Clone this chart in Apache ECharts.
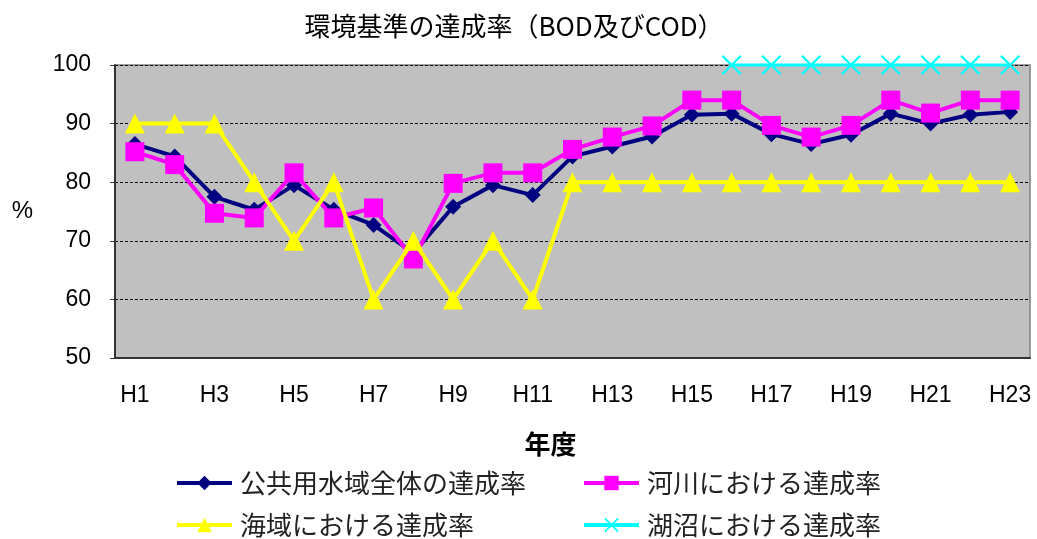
<!DOCTYPE html>
<html><head><meta charset="utf-8">
<script src="https://cdn.jsdelivr.net/npm/echarts@6/dist/echarts.min.js"></script>
<style>html,body{margin:0;padding:0;background:#fff}#c{width:1037px;height:539px}</style>
</head><body><div id="c"></div>
<script>
const categories = ['H1','H2','H3','H4','H5','H6','H7','H8','H9','H10','H11','H12','H13','H14','H15','H16','H17','H18','H19','H20','H21','H22','H23'];
const overall = [86.5,84.4,77.5,75.3,79.5,75.3,72.7,67.9,75.8,79.5,77.8,84.4,86.1,87.8,91.5,91.7,88.2,86.5,88.1,91.7,90.0,91.5,92.0];
const rivers  = [85.2,83.0,74.7,73.9,81.6,73.9,75.6,66.9,79.8,81.6,81.6,85.6,87.7,89.6,94.0,94.0,89.7,87.7,89.7,94.0,91.8,94.0,94.0];
const seas    = [90,90,90,80,70,80,60,70,60,70,60,80,80,80,80,80,80,80,80,80,80,80,80];
const lakes   = [null,null,null,null,null,null,null,null,null,null,null,null,null,null,null,100,100,100,100,100,100,100,100];
const names = ['公共用水域全体の達成率','河川における達成率','海域における達成率','湖沼における達成率'];
const yTicks = {min:50,max:100,interval:10};

const FONT = '"Liberation Sans","Noto Sans CJK JP",sans-serif';
const JFONT = '"Noto Sans CJK JP",sans-serif';
const xPath = 'path://M0,1.6 L1.6,0 L10,8.4 L18.4,0 L20,1.6 L11.6,10 L20,18.4 L18.4,20 L10,11.6 L1.6,20 L0,18.4 L8.4,10 Z';

const chart = echarts.init(document.getElementById('c'));
function legend(name, left, top){
  return {data:[name], left:left, top:top, itemWidth:55, itemHeight:18, itemGap:0,
    lineStyle:{width:4},
    textStyle:{fontFamily:JFONT,fontSize:26,color:'#222',padding:[0,0,0,3]}, padding:0};
}
chart.setOption({
  animation:false,
  title:{text:'環境基準の達成率（BOD及びCOD）', left:509, top:8, textAlign:'center',
    textStyle:{fontFamily:JFONT,fontSize:26,fontWeight:'normal',color:'#000'}},
  grid:{left:115,right:7,top:65,bottom:181,show:true,backgroundColor:'#c0c0c0',borderColor:'#808080',borderWidth:1.5},
  legend:[legend(names[0],175,470),legend(names[1],582,470),legend(names[2],175,512),legend(names[3],582,512)],
  xAxis:{type:'category',data:categories,boundaryGap:true,
    name:'年度',nameLocation:'middle',nameGap:73,
    nameTextStyle:{fontFamily:JFONT,fontSize:26,fontWeight:'bold',color:'#000',padding:[0,44,0,0]},
    axisLine:{lineStyle:{color:'#333',width:2}},
    axisTick:{inside:true,length:7,interval:0,lineStyle:{color:'#333',width:1}},
    axisLabel:{interval:1,fontFamily:FONT,fontSize:23,color:'#000',margin:26}},
  yAxis:{type:'value',min:yTicks.min,max:yTicks.max,interval:yTicks.interval,
    name:'%',nameLocation:'middle',nameGap:82,nameRotate:0,
    nameTextStyle:{fontFamily:FONT,fontSize:24,color:'#000'},
    axisLine:{show:true,lineStyle:{color:'#333',width:2}},
    axisTick:{show:true,length:5,lineStyle:{color:'#333'}},
    axisLabel:{fontFamily:FONT,fontSize:23,color:'#000',margin:24},
    splitLine:{lineStyle:{color:'#000',type:[3,2],width:1}}},
  series:[
    {name:names[0],type:'line',data:overall,symbol:'diamond',symbolSize:16,
      lineStyle:{color:'#000080',width:4},itemStyle:{color:'#000080'},z:2},
    {name:names[1],type:'line',data:rivers,symbol:'rect',symbolSize:19,
      lineStyle:{color:'#ff00ff',width:4},itemStyle:{color:'#ff00ff'},z:3},
    {name:names[2],type:'line',data:seas,symbol:'triangle',symbolSize:20,
      lineStyle:{color:'#ffff00',width:4},itemStyle:{color:'#ffff00'},z:4},
    {name:names[3],type:'line',data:lakes,symbol:xPath,symbolSize:20,clip:false,
      lineStyle:{color:'#00ffff',width:3},itemStyle:{color:'#00ffff'},z:5}
  ]
});
</script></body></html>
